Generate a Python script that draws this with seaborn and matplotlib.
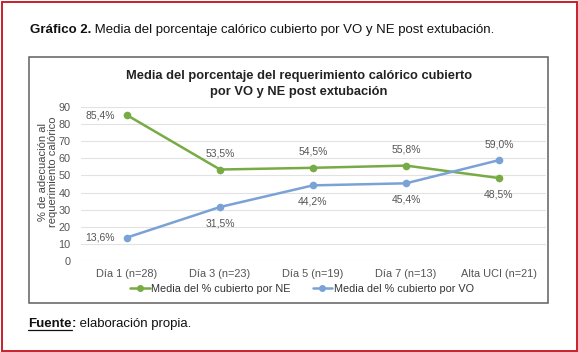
import matplotlib
matplotlib.use("Agg")
import matplotlib.pyplot as plt
import seaborn as sns
import pandas as pd
from matplotlib.patches import Rectangle
from matplotlib.lines import Line2D

categories = ["Día 1 (n=28)", "Día 3 (n=23)", "Día 5 (n=19)", "Día 7 (n=13)", "Alta UCI (n=21)"]
ne_values = [85.4, 53.5, 54.5, 55.8, 48.5]
vo_values = [13.6, 31.5, 44.2, 45.4, 59.0]
series_names = ["Media del % cubierto por NE", "Media del % cubierto por VO"]
yticks = [0, 10, 20, 30, 40, 50, 60, 70, 80, 90]

sns.set_theme(style="white")
plt.rcParams["font.family"] = ["Liberation Sans", "DejaVu Sans"]

W, H = 578, 352
fig = plt.figure(figsize=(W / 100, H / 100), dpi=100)
renderer = fig.canvas.get_renderer()

def fx(px):
    return px / W

def fy(py):
    return 1 - py / H

def text_run(x_px, y_px, parts, size):
    """Place consecutive text parts; returns end x in pixels."""
    x = x_px
    for s, weight in parts:
        t = fig.text(fx(x), fy(y_px), s, fontsize=size, fontweight=weight, color="#111111", va="center")
        bb = t.get_window_extent(renderer)
        x = x + bb.width
    return x

# red outer border
fig.add_artist(Rectangle((fx(1.5), fy(350.5)), fx(575), 348.5 / H, transform=fig.transFigure,
                         fill=False, edgecolor="#c8202a", linewidth=1.4))
# chart box
fig.add_artist(Rectangle((fx(29), fy(303)), fx(519), 246 / H, transform=fig.transFigure,
                         fill=False, edgecolor="#5f5f5f", linewidth=1.1))

text_run(30, 30, [("Gráfico 2.", "bold"), (" Media del porcentaje calórico cubierto por VO y NE post extubación.", "normal")], 9.5)
end_f = text_run(28, 324, [("Fuente", "bold")], 9.5)
fig.add_artist(Line2D([fx(28), fx(end_f)], [fy(329.5), fy(329.5)], transform=fig.transFigure,
                      color="#111111", lw=0.9))
text_run(end_f, 324, [(":", "bold"), (" elaboración propia.", "normal")], 9.5)

ax = fig.add_axes([fx(80.5), fy(260.7), fx(465), (260.7 - 107.3) / H])

df = pd.DataFrame({
    "cat": categories * 2,
    "x": list(range(len(categories))) * 2,
    "val": ne_values + vo_values,
    "serie": [series_names[0]] * len(categories) + [series_names[1]] * len(categories),
})
green = "#78ab45"
blue = "#7aa2d6"
sns.lineplot(data=df, x="x", y="val", hue="serie", palette=[green, blue], marker="o",
             markersize=5.5, markeredgewidth=0, linewidth=1.8, ax=ax, legend=False)

ax.set_xlim(-0.5, len(categories) - 0.5)
ax.set_ylim(0, 90)
ax.set_yticks(yticks)
ax.set_yticklabels([str(v) for v in yticks], fontsize=7.8, color="#555555")
ax.set_xticks(range(len(categories)))
ax.set_xticklabels(categories, fontsize=7.9, color="#555555")
ax.tick_params(axis="y", length=0, pad=7)
ax.tick_params(axis="x", length=0, pad=6)
ax.grid(axis="y", color="#e2e2e2", linewidth=0.8)
ax.set_axisbelow(True)
for s in ax.spines.values():
    s.set_visible(False)
ax.set_xlabel("")
ax.set_ylabel("")
fig.text(fx(47.5), fy(172), "% de adecuación al\nrequerimiento calórico", rotation=90, ha="center", va="center",
         fontsize=8, color="#444444", linespacing=1.0)

def fmt(v):
    return f"{v:.1f}%".replace(".", ",")

ne_pos = ["left", "above", "above", "above", "below"]
vo_pos = ["left", "below", "below", "below", "above"]
for vals, pos in ((ne_values, ne_pos), (vo_values, vo_pos)):
    for i, (v, p) in enumerate(zip(vals, pos)):
        if p == "left":
            ax.annotate(fmt(v), (i, v), xytext=(-9, 0), textcoords="offset points",
                        ha="right", va="center", fontsize=7.5, color="#555555")
        elif p == "above":
            ax.annotate(fmt(v), (i, v), xytext=(0, 8), textcoords="offset points",
                        ha="center", va="bottom", fontsize=7.5, color="#555555")
        else:
            ax.annotate(fmt(v), (i, v), xytext=(0, -8), textcoords="offset points",
                        ha="center", va="top", fontsize=7.5, color="#555555")

fig.text(fx(299), fy(84), "Media del porcentaje del requerimiento calórico cubierto\npor VO y NE post extubación",
         ha="center", va="center", fontsize=9.3, fontweight="bold", color="#222222", linespacing=1.5)

handles = [Line2D([0], [0], color=green, lw=1.8, marker="o", markersize=4),
           Line2D([0], [0], color=blue, lw=1.8, marker="o", markersize=4)]
fig.legend(handles, series_names, loc="center", bbox_to_anchor=(fx(302), fy(289)), ncol=2,
           frameon=False, fontsize=7.8, handlelength=1.8, handletextpad=0.15, columnspacing=2.0,
           labelcolor="#333333")

fig.savefig("out.png", dpi=100)
